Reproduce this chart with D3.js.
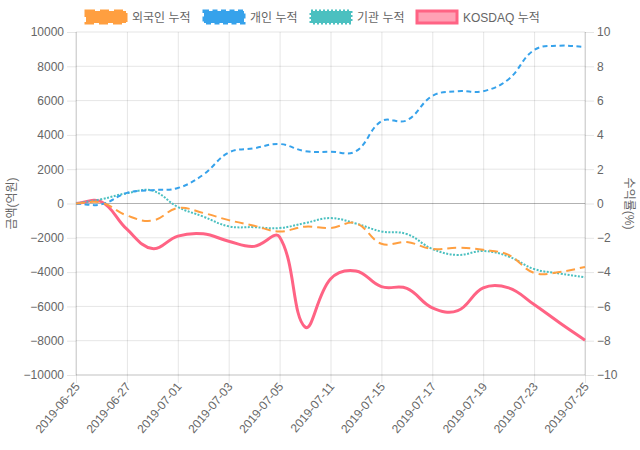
<!DOCTYPE html>
<html><head><meta charset="utf-8">
<script src="https://cdn.jsdelivr.net/npm/d3@7"></script>
<style>
html,body{margin:0;padding:0;background:#fff;}
svg{display:block;font-family:"Liberation Sans",Arial,"Noto Sans CJK KR",sans-serif;}
</style></head>
<body><svg id="c" width="640" height="450"></svg>
<script>
const dates = ["2019-06-25","2019-06-26","2019-06-27","2019-06-28","2019-07-01","2019-07-02","2019-07-03","2019-07-04","2019-07-05","2019-07-10","2019-07-11","2019-07-12","2019-07-15","2019-07-16","2019-07-17","2019-07-18","2019-07-19","2019-07-22","2019-07-23","2019-07-24","2019-07-25"];
const foreignCum = [0, 50, -700, -1000, -270, -550, -970, -1300, -1630, -1350, -1430, -1150, -2350, -2250, -2650, -2580, -2700, -3000, -4050, -4000, -3700];
const individualCum = [0, -50, 620, 780, 900, 1680, 2970, 3220, 3470, 3050, 3020, 3050, 4800, 4850, 6270, 6550, 6550, 7250, 8950, 9200, 9130];
const institutionCum = [0, 250, 600, 750, -200, -760, -1330, -1380, -1430, -1140, -850, -1170, -1630, -1780, -2650, -3000, -2770, -3090, -3820, -4080, -4300];
const kosdaqCum = [0, 0.1, -1.5, -2.63, -1.9, -1.77, -2.2, -2.5, -1.95, -7.2, -4.4, -3.93, -4.85, -4.95, -6.08, -6.25, -4.92, -4.92, -5.89, -6.95, -7.97];
const seriesNames = ["외국인 누적", "개인 누적", "기관 누적", "KOSDAQ 누적"];
const leftTicks = [10000, 8000, 6000, 4000, 2000, 0, -2000, -4000, -6000, -8000, -10000];
const rightTicks = [10, 8, 6, 4, 2, 0, -2, -4, -6, -8, -10];
const leftTitle = "금액(억원)";
const rightTitle = "수익률(%)";

const L = 76, R = 585, T = 32, B = 375;
const svg = d3.select("#c");
const x = d3.scalePoint().domain(dates).range([L, R]);
const yL = d3.scaleLinear().domain([-10000, 10000]).range([B, T]);
const yR = d3.scaleLinear().domain([-10, 10]).range([B, T]);
const shownDates = dates.filter((d, i) => i % 2 === 0);

// Chart.js-like spline curve (tension 0.4)
function chartSpline(context) {
  let pts = [];
  return {
    areaStart() {}, areaEnd() {},
    lineStart() { pts = []; },
    point(px, py) { pts.push([+px, +py]); },
    lineEnd() {
      const n = pts.length, t = 0.4;
      if (!n) return;
      const cps = pts.map((p, i) => {
        const prev = pts[i - 1] || p, next = pts[i + 1] || p;
        const d01 = Math.hypot(p[0] - prev[0], p[1] - prev[1]);
        const d12 = Math.hypot(next[0] - p[0], next[1] - p[1]);
        let s01 = d01 / (d01 + d12), s12 = d12 / (d01 + d12);
        if (isNaN(s01)) s01 = 0; if (isNaN(s12)) s12 = 0;
        const fa = t * s01, fb = t * s12;
        return {px: p[0] - fa * (next[0] - prev[0]), py: p[1] - fa * (next[1] - prev[1]),
                nx: p[0] + fb * (next[0] - prev[0]), ny: p[1] + fb * (next[1] - prev[1])};
      });
      context.moveTo(pts[0][0], pts[0][1]);
      for (let i = 1; i < n; i++) context.bezierCurveTo(cps[i-1].nx, cps[i-1].ny, cps[i].px, cps[i].py, pts[i][0], pts[i][1]);
    }
  };
}

const grid = "rgba(0,0,0,0.1)";
const txt = "#666";

// vertical grid
const xAxis = d3.axisBottom(x).tickValues(shownDates).tickSizeOuter(0).tickPadding(0);
const gx = svg.append("g").attr("transform", `translate(0,${B})`).call(xAxis);
gx.select(".domain").remove();
gx.selectAll(".tick line").attr("stroke", grid).attr("y2", -(B - T)).attr("y1", 8);
gx.selectAll(".tick text").attr("fill", txt).attr("font-size", 12)
  .attr("text-anchor", "end").attr("dy", 0).attr("y", 0)
  .attr("transform", "translate(4,12) rotate(-50)");

// horizontal grid + left ticks
const gyl = svg.append("g").attr("transform", `translate(${L},0)`)
  .call(d3.axisLeft(yL).tickValues(leftTicks).tickSize(9).tickPadding(3).tickFormat(d3.format("d")));
gyl.select(".domain").remove();
gyl.selectAll(".tick line").attr("stroke", grid);
gyl.selectAll(".tick text").attr("fill", txt).attr("font-size", 12);
svg.append("g").selectAll("line").data(leftTicks).join("line")
  .attr("x1", L).attr("x2", R).attr("y1", d => yL(d)).attr("y2", d => yL(d))
  .attr("stroke", d => d === 0 ? "rgba(0,0,0,0.3)" : grid);

const gyr = svg.append("g").attr("transform", `translate(${R},0)`)
  .call(d3.axisRight(yR).tickValues(rightTicks).tickSize(9).tickPadding(3).tickFormat(d3.format("d")));
gyr.select(".domain").remove();
gyr.selectAll(".tick line").attr("stroke", grid);
gyr.selectAll(".tick text").attr("fill", txt).attr("font-size", 12);

// axis border lines
svg.append("line").attr("x1", L).attr("x2", L).attr("y1", T).attr("y2", B).attr("stroke", "rgba(0,0,0,0.15)");
svg.append("line").attr("x1", R).attr("x2", R).attr("y1", T).attr("y2", B).attr("stroke", "rgba(0,0,0,0.15)");
svg.append("line").attr("x1", L).attr("x2", R).attr("y1", B).attr("y2", B).attr("stroke", "rgba(0,0,0,0.15)");

// axis titles
svg.append("text").attr("transform", `translate(16,${(T + B) / 2}) rotate(-90)`)
  .attr("text-anchor", "middle").attr("fill", txt).attr("font-size", 12).text(leftTitle);
svg.append("text").attr("transform", `translate(625,${(T + B) / 2}) rotate(90)`)
  .attr("text-anchor", "middle").attr("fill", txt).attr("font-size", 12).text(rightTitle);

const series = [
  {name: seriesNames[0], values: foreignCum, y: yL, color: "rgb(255,159,64)", dash: "9,5", fill: "rgb(255,159,64)", w: 2},
  {name: seriesNames[1], values: individualCum, y: yL, color: "rgb(54,162,235)", dash: "5,3.5", fill: "rgb(54,162,235)", w: 2},
  {name: seriesNames[2], values: institutionCum, y: yL, color: "rgb(75,192,192)", dash: "2,1.5", fill: "rgb(75,192,192)", w: 2},
  {name: seriesNames[3], values: kosdaqCum, y: yR, color: "rgb(255,99,132)", dash: null, fill: "rgba(255,99,132,0.6)", w: 3}
];

const plot = svg.append("g");
series.slice().reverse().forEach(s => {
  const line = d3.line().x((d, i) => x(dates[i])).y(d => s.y(d)).curve(chartSpline);
  plot.append("path").attr("d", line(s.values)).attr("fill", "none")
    .attr("stroke", s.color).attr("stroke-width", s.w)
    .attr("stroke-dasharray", s.dash).attr("stroke-linejoin", "round");
});

// legend
const legendX = [86, 204, 311, 417];
const lg = svg.append("g");
series.forEach((s, i) => {
  lg.append("rect").attr("x", legendX[i]).attr("y", 11).attr("width", 40).attr("height", 12)
    .attr("fill", s.fill).attr("stroke", s.color).attr("stroke-width", 3)
    .attr("stroke-dasharray", s.dash ? (i === 2 ? "2,2" : s.dash) : null);
  lg.append("text").attr("x", legendX[i] + 46).attr("y", 21.5).attr("fill", txt)
    .attr("font-size", 12).text(s.name);
});
</script></body></html>
